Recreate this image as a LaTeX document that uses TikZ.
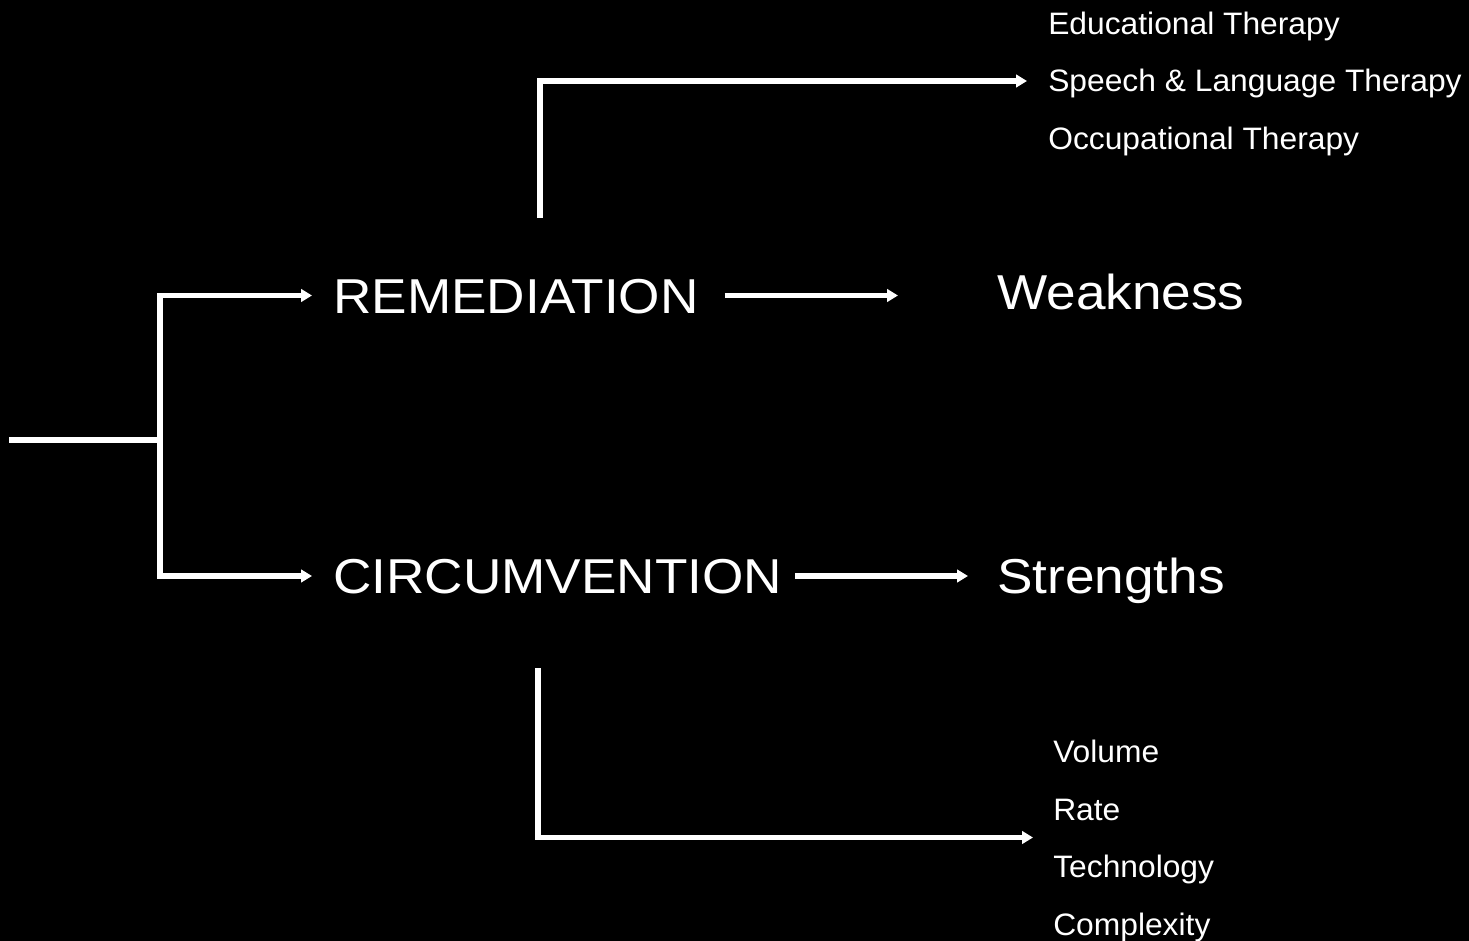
\documentclass[tikz,border=0pt]{standalone}
\usepackage{fontspec}
\usetikzlibrary{arrows.meta,calc}
% Arial-metric sans in two slightly widened cuts
\newfontfamily\bigfamily{Liberation Sans}[FakeStretch=1.085]
\newfontfamily\smallfamily{Liberation Sans}[FakeStretch=1.025]
\tikzset{
  conn/.style={draw=white, line width=4.1pt, line join=miter},
  arr/.style={conn, -{Triangle[length=8.25pt,width=9.4pt]}},
  bigtext/.style={text=white, inner sep=0pt, anchor=west,
    font=\bigfamily\fontsize{36.75pt}{40pt}\selectfont,
    text height=26.25pt, text depth=0pt},
  smalltext/.style={text=white, inner sep=0pt, anchor=west,
    font=\smallfamily\fontsize{23.25pt}{26pt}\selectfont,
    text height=16.5pt, text depth=0pt}
}
\begin{document}
\begin{tikzpicture}[x=0.75pt, y=-0.75pt]
  % page background
  \fill[black] (0,0) rectangle (1469,941);
  \useasboundingbox (0,0) rectangle (1469,941);

  % main labels
  \node[bigtext] (rem)  at (333,295.5) {REMEDIATION};
  \node[bigtext] (circ) at (333,576)   {CIRCUMVENTION};
  \node[bigtext] (weak) at (997,292)   {Weakness};
  \node[bigtext] (str)  at (997,575.5) {Strengths};

  % therapy list
  \node[smalltext] (edu)    at (1048,24)  {Educational Therapy};
  \node[smalltext] (speech) at (1048,81)  {Speech \& Language Therapy};
  \node[smalltext] (occ)    at (1048,139) {Occupational Therapy};

  % accommodation list
  \node[smalltext] (vol)  at (1053,751) {Volume};
  \node[smalltext] (rate) at (1053,809) {Rate};
  \node[smalltext] (tech) at (1053,866) {Technology};
  \node[smalltext] (cplx) at (1053,924) {Complexity};

  % fork on the left
  \coordinate (start) at (9,440);
  \coordinate (fork)  at (160,440);
  \draw[conn] (start) -- (fork);
  \draw[arr] (fork) |- ([xshift=-15.75pt]rem.west);
  \draw[arr] (fork) |- ([xshift=-15.75pt]circ.west);

  % label to outcome arrows
  \draw[arr] ([xshift=19.5pt]rem.east) -- ([xshift=-74.25pt]weak.west |- rem.east);
  \draw[arr] ([xshift=9.75pt]circ.east) -- ([xshift=-21.75pt]str.west |- circ.east);

  % elbows to the lists
  \coordinate (remup)   at (540,218);
  \coordinate (circdown) at (538,668);
  \draw[arr] (remup) |- ([xshift=-15.75pt]speech.west);
  \draw[arr] (circdown) |- ([xshift=-15pt]$(rate.west)!0.5!(tech.west)$);
\end{tikzpicture}
\end{document}
